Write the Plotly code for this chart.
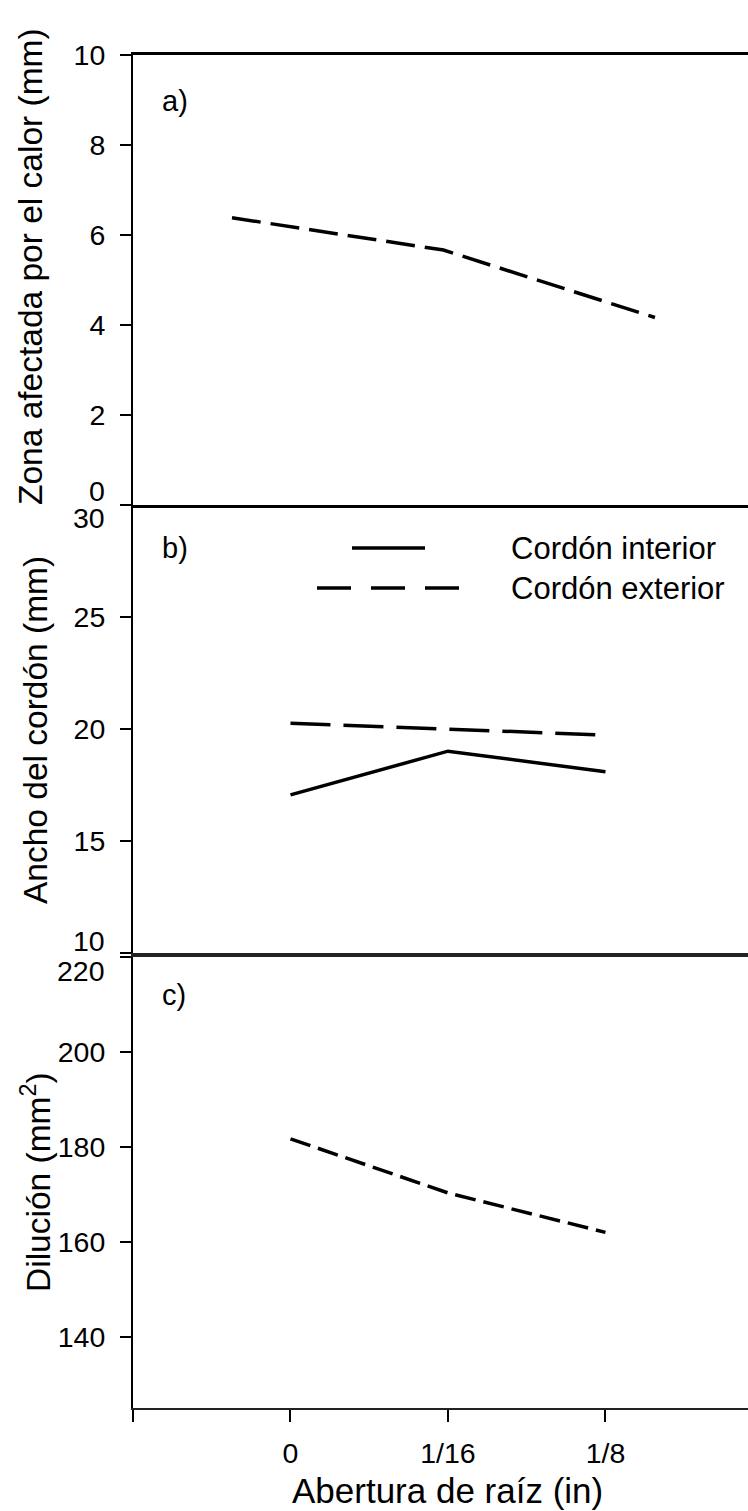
import plotly.graph_objects as go

# ---------------- data ----------------
categories = ["0", "1/16", "1/8"]
zona_afectada = [6.38, 5.66, 4.16]          # panel a (mm)
ancho_interior = [17.05, 19.0, 18.08]       # panel b, Cordón interior (mm)
ancho_exterior = [20.25, 19.97, 19.72]      # panel b, Cordón exterior (mm)
dilucion = [181.7, 170.3, 162.0]            # panel c (mm2)

series_names = ["Cordón interior", "Cordón exterior"]
ticks_a = [0, 2, 4, 6, 8, 10]
ticks_b = [10, 15, 20, 25, 30]
ticks_c = [140, 160, 180, 200, 220]

# ---------------- layout helpers ----------------
W, H = 748, 1511
ML, MR, MT, MB = 133, 0, 55, 103
PW, PH = W - ML - MR, H - MT - MB


def px_x(px):
    return (px - ML) / PW


def px_y(py):
    return (H - MB - py) / PH


FONT = "Arial, Liberation Sans, sans-serif"
TICK = 28.5
x = list(range(len(categories)))

fig = go.Figure()
fig.add_trace(go.Scatter(x=x, y=zona_afectada, xaxis="x3", yaxis="y3", mode="lines",
                         line=dict(color="black", width=3.5, dash="29px,10px"), showlegend=False))
fig.add_trace(go.Scatter(x=x, y=ancho_interior, xaxis="x2", yaxis="y2", mode="lines",
                         name=series_names[0], line=dict(color="black", width=3.5), showlegend=False))
fig.add_trace(go.Scatter(x=x, y=ancho_exterior, xaxis="x2", yaxis="y2", mode="lines",
                         name=series_names[1], line=dict(color="black", width=3.5, dash="40px,13px"),
                         showlegend=False))
fig.add_trace(go.Scatter(x=x, y=dilucion, xaxis="x", yaxis="y", mode="lines",
                         line=dict(color="black", width=3.5, dash="21px,8px"), showlegend=False))

dom_a = [px_y(504.5), 1]
dom_b = [px_y(953), px_y(504.5)]
dom_c = [0, px_y(957)]

yax_common = dict(showline=True, linewidth=2, linecolor="black", ticks="outside", ticklen=11,
                  tickwidth=2, tickcolor="black", showgrid=False, zeroline=False,
                  tickfont=dict(family=FONT, size=TICK, color="black"), ticklabelstandoff=9)


def tick_text(vals, hide):
    return ["" if v in hide else str(v) for v in vals]


fig.update_layout(
    width=W, height=H, margin=dict(l=ML, r=MR, t=MT, b=MB),
    paper_bgcolor="white", plot_bgcolor="white", showlegend=False,
    font=dict(family=FONT, color="black"),
    # panel c (bottom)
    xaxis=dict(domain=[0, 1], anchor="y", range=[-1, 2.905], tickvals=[-1] + x,
               ticktext=[""] + categories, ticks="outside", ticklen=12, tickwidth=2,
               tickcolor="black", showline=True, linewidth=1.6, linecolor="#222", mirror=True,
               showgrid=False, zeroline=False, ticklabelstandoff=7,
               tickfont=dict(family=FONT, size=TICK, color="black")),
    yaxis=dict(domain=dom_c, anchor="x", range=[125, 220], tickvals=ticks_c,
               ticktext=tick_text(ticks_c, [220]), **yax_common),
    # panel b
    xaxis2=dict(domain=[0, 1], anchor="y2", range=[-1, 2.905], showticklabels=False, ticks="",
                showline=True, linewidth=1.6, linecolor="#222", showgrid=False, zeroline=False),
    yaxis2=dict(domain=dom_b, anchor="x2", range=[10, 30], tickvals=ticks_b,
                ticktext=tick_text(ticks_b, [10, 30]), **yax_common),
    # panel a (top)
    xaxis3=dict(domain=[0, 1], anchor="y3", range=[-0.468, 2.44], showticklabels=False, ticks="",
                showline=True, linewidth=3, linecolor="black", mirror=True, showgrid=False,
                zeroline=False),
    yaxis3=dict(domain=dom_a, anchor="x3", range=[0, 10], tickvals=ticks_a,
                ticktext=tick_text(ticks_a, [0]), **yax_common),
)

ann = []
# shifted boundary tick labels (as in the reference, they sit off their ticks)
for ref, val, shift in [("y3", 0, 14), ("y2", 30, -13), ("y2", 10, 12), ("y", 220, -14)]:
    ann.append(dict(xref="paper", yref=ref, x=px_x(107), y=val, yshift=shift, text=str(val),
                    showarrow=False, xanchor="right", yanchor="middle",
                    font=dict(family=FONT, size=TICK, color="black")))
# panel letters
for lab, py in [("a)", 101), ("b)", 548), ("c)", 995)]:
    ann.append(dict(xref="paper", yref="paper", x=px_x(160), y=px_y(py), text=lab, showarrow=False,
                    xanchor="left", yanchor="middle", font=dict(family=FONT, size=29, color="black")))
# axis titles
for txt, pxx, pyy in [("Zona afectada por el calor (mm)", 30, 267),
                      ("Ancho del cordón (mm)", 35, 730),
                      ("Dilución (mm<sup>2</sup>)", 36, 1182)]:
    ann.append(dict(xref="paper", yref="paper", x=px_x(pxx), y=px_y(pyy), text=txt, textangle=-90,
                    showarrow=False, xanchor="center", yanchor="middle",
                    font=dict(family=FONT, size=33.5, color="black")))
ann.append(dict(xref="x", yref="paper", x=1, y=px_y(1490), text="Abertura de raíz (in)",
                showarrow=False, xanchor="center", yanchor="middle",
                font=dict(family=FONT, size=35, color="black")))
# legend (manual)
ann.append(dict(xref="paper", yref="paper", x=px_x(509), y=px_y(548), text=series_names[0],
                showarrow=False, xanchor="left", yanchor="middle",
                font=dict(family=FONT, size=31, color="black")))
ann.append(dict(xref="paper", yref="paper", x=px_x(509), y=px_y(588), text=series_names[1],
                showarrow=False, xanchor="left", yanchor="middle",
                font=dict(family=FONT, size=31, color="black")))
fig.update_layout(annotations=ann)

fig.add_shape(type="line", xref="paper", yref="paper", x0=px_x(352), x1=px_x(425),
              y0=px_y(548), y1=px_y(548), line=dict(color="black", width=3.5))
fig.add_shape(type="line", xref="paper", yref="paper", x0=px_x(317), x1=px_x(460),
              y0=px_y(588), y1=px_y(588), line=dict(color="black", width=3.5, dash="34px,20px"))

fig.write_html("out.html")
